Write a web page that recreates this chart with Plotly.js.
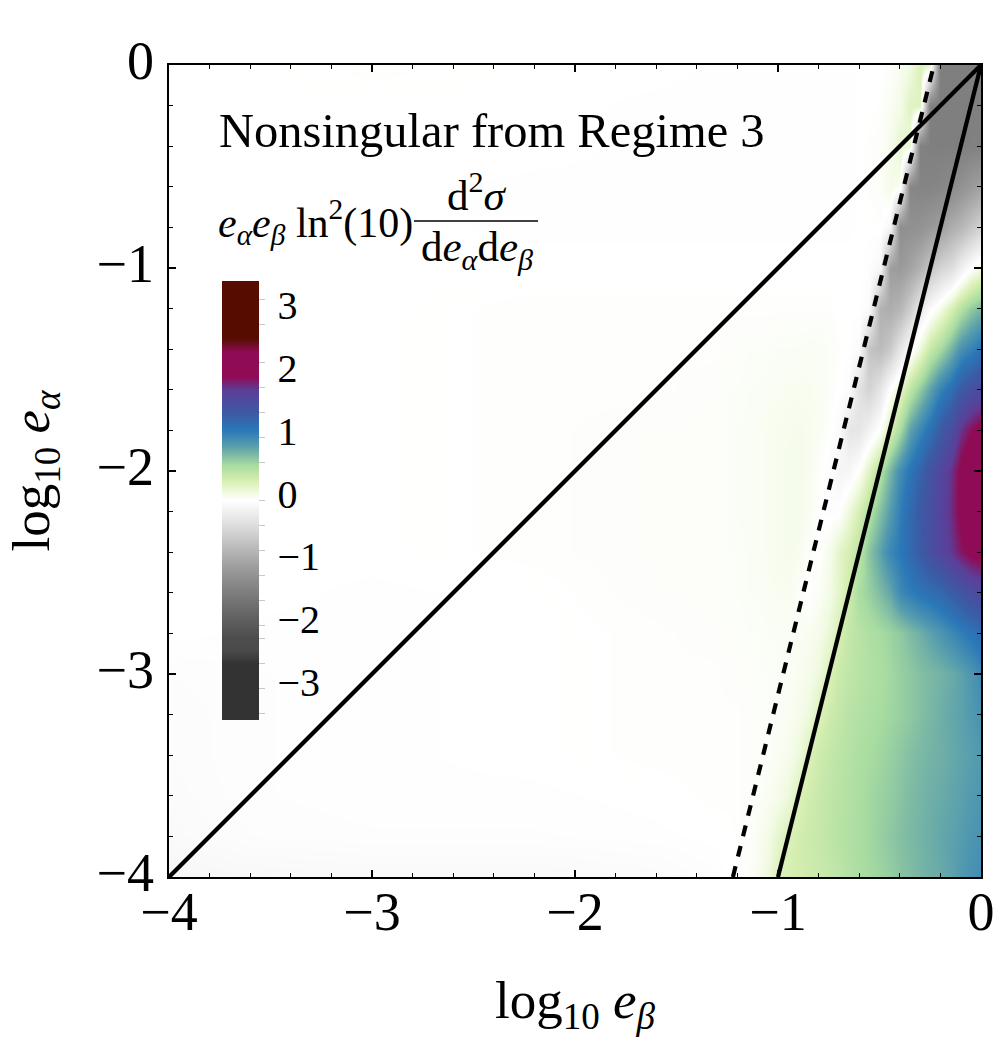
<!DOCTYPE html>
<html><head><meta charset="utf-8">
<script src="https://cdn.plot.ly/plotly-3.0.1.min.js"></script>
<style>html,body{margin:0;padding:0;background:#fff}#g{width:1000px;height:1045px}</style>
</head><body><div id="g"></div>
<script>
const logEBeta = [-4,-3.6,-3,-2.2,-1.6,-1.3,-1.25,-1.2,-1.15,-1.1,-1.05,-1,-.95,-.9,-.85,-.8,-.75,-.7,-.65,-.6,-.55,-.5,-.45,-.4,-.35,-.3,-.25,-.2,-.15,-.1,-.05,0];
const logEAlpha = [-4,-3.8,-3.6,-3.4,-3.2,-3,-2.8,-2.6,-2.4,-2.2,-2,-1.8,-1.6,-1.4,-1.2,-1,-.8,-.6,-.4,-.2,0];
const crossSection = [
[-.1,-.08,-.07,-.07,-.05,-.02,0,.01,.03,.07,.15,.28,.31,.33,.36,.38,.41,.44,.5,.54,.57,.6,.63,.68,.71,.75,.78,.8,.85,.9,.95,.98],
[-.06,-.03,-.02,-.02,-.01,0,0,.01,.02,.05,.1,.2,.28,.33,.37,.4,.44,.48,.51,.55,.58,.62,.66,.7,.73,.76,.79,.82,.85,.88,.92,.95],
[-.05,-.02,-.01,-.01,0,.01,.01,.01,.02,.03,.05,.09,.15,.27,.34,.39,.43,.47,.5,.54,.58,.61,.64,.68,.72,.75,.78,.8,.83,.86,.89,.92],
[-.04,-.02,-.01,0,.01,.01,.01,.01,.02,.02,.03,.05,.08,.14,.27,.36,.41,.45,.49,.53,.56,.59,.62,.66,.7,.73,.76,.78,.81,.84,.87,.9],
[-.04,-.02,-.01,0,.01,.01,.01,.01,.02,.02,.03,.04,.05,.08,.14,.27,.36,.42,.47,.5,.53,.56,.59,.62,.66,.7,.74,.78,.82,.85,.9,.95],
[-.03,-.02,-.01,0,.01,.01,.02,.02,.02,.03,.03,.04,.04,.06,.08,.15,.28,.38,.43,.47,.5,.54,.58,.62,.66,.7,.73,.76,.8,.85,.92,1],
[0,-.01,-.01,0,.01,.02,.02,.02,.03,.03,.04,.04,.05,.05,.06,.09,.17,.3,.42,.47,.52,.56,.6,.65,.72,.78,.85,.92,1,1.08,1.15,1.22],
[0,0,-.01,0,.02,.02,.03,.03,.04,.04,.05,.06,.06,.03,0,.04,.1,.22,.36,.55,.62,.72,.82,1,1.08,1.15,1.2,1.25,1.35,1.45,1.55,1.62],
[0,0,0,.01,.02,.02,.03,.03,.04,.05,.06,.07,.08,.07,.02,0,.08,.22,.32,.45,.68,.85,1.02,1.12,1.25,1.38,1.52,1.65,1.78,1.92,2.02,2.05],
[0,0,0,.01,.02,.02,.03,.04,.05,.05,.06,.07,.08,.08,.06,.01,-.03,0,.15,.32,.5,.7,.88,1.08,1.25,1.4,1.52,1.68,1.82,2.03,2.12,2.15],
[0,0,0,.01,.02,.02,.03,.04,.05,.05,.06,.07,.08,.08,.07,.02,-.03,-.12,-.1,.02,.25,.5,.75,.98,1.15,1.3,1.48,1.63,1.8,2.03,2.15,2.2],
[0,0,0,.01,.02,.02,.03,.04,.04,.05,.06,.07,.07,.08,.07,.05,.01,-.05,-.3,-.3,-.15,.02,.3,.55,.85,1.02,1.18,1.38,1.55,1.8,1.95,2.05],
[0,0,0,.01,.01,.02,.03,.03,.04,.04,.05,.05,.06,.06,.06,.05,.03,0,-.03,-.35,-.5,-.3,0,.2,.45,.65,.85,1.05,1.2,1.4,1.52,1.6],
[0,0,0,.01,.01,.01,.02,.02,.03,.03,.03,.04,.04,.04,.05,.05,.03,.01,-.01,-.05,-.65,-.75,-.6,-.3,-.05,.15,.4,.55,.75,.95,1.05,1.15],
[0,0,0,.01,.01,.01,.01,.01,.01,.01,.01,.01,.01,.01,.01,.01,.01,0,0,0,-.05,-.85,-.9,-.8,-.55,-.25,-.05,.1,.3,.5,.65,.75],
[0,0,0,0,0,0,0,0,0,0,0,0,0,0,0,0,0,0,0,0,-.02,-.1,-1.05,-1.1,-1,-.85,-.65,-.5,-.4,-.18,0,.12],
[0,0,0,-.01,-.01,-.01,-.01,-.01,-.01,-.01,-.01,-.01,-.01,-.01,-.01,-.01,-.01,-.01,-.01,0,0,.01,-.1,-1.25,-1.22,-1.2,-1.12,-1.05,-.9,-.8,-.65,-.5],
[0,0,0,-.01,-.01,-.01,-.01,-.01,-.01,-.01,-.01,-.01,-.01,-.01,-.01,-.01,-.01,-.01,-.01,0,.01,.03,.1,.05,-1.35,-1.38,-1.38,-1.35,-1.3,-1.2,-1.1,-1],
[0,0,0,0,-.01,-.01,-.01,-.01,-.01,-.01,-.01,-.01,-.01,-.01,-.01,-.01,-.01,-.01,-.01,0,.01,.02,.08,.2,.15,-1.42,-1.45,-1.45,-1.45,-1.45,-1.43,-1.42],
[0,0,0,0,-.01,-.01,-.01,-.01,-.01,-.01,-.01,-.01,-.01,-.01,-.01,-.01,-.01,-.01,-.01,0,0,.01,.05,.1,.25,.25,-1.45,-1.45,-1.45,-1.45,-1.45,-1.45],
[0,0,.01,0,0,-.01,-.01,-.01,-.01,-.01,-.01,-.01,-.01,-.01,-.01,-.01,-.01,-.01,-.01,0,0,0,.02,.06,.12,.28,.2,-1.45,-1.45,-1.45,-1.45,-1.45]
];
const scaleValues = [-3.5,-2.6,-2.4,-2.18,-1.8,-1.44,-1.1,-.75,-.37,0,.13,.32,.56,.75,.88,1.12,1.38,1.75,1.97,2.37,2.58,3.5];
const scaleColors = ['#333333','#333333','#4a4a4a','#4d4d4d','#666666','#808080','#9a9a9a','#bbbbbb','#e0e0e0','#ffffff','#f0fae0','#d5eeb0','#a8dca0','#77b5a5','#559cae','#2a78b8','#3b5ba5','#5b3f99','#8f0b55','#8f0b55','#560d00','#560d00'];
const colorbarLabelValues = [3.11,2.11,1.11,.11,-.89,-1.89,-2.89];
const colorbarLabelText = ['3','2','1','0','−1','−2','−3'];
const colorbarTickValues = [3.2,2.8,2.2,1.8,1.4,1,.6,0,-.4,-.8,-1.2,-1.6,-2,-2.2,-2.6,-3,-3.4];
const axisTickValues = [-4,-3,-2,-1,0];
const axisTickText = ['−4','−3','−2','−1','0'];
const diagonalX = [-4,0], diagonalY = [-4,0];
const solidX = [-1,0], solidY = [-4,0];
const dashedX = [-1.222,-.232], dashedY = [-4,0];

const FONT = '"Liberation Serif", serif';
const colorscale = scaleValues.map((v,i)=>[(v+3.5)/7, scaleColors[i]]);
const bar = {x:(222-169)/812, xanchor:'left', xpad:0, y:(877-500.5)/812, yanchor:'middle', ypad:0,
  thicknessmode:'pixels', thickness:37, lenmode:'pixels', len:439, outlinewidth:0, borderwidth:0};
const traces = [
 {type:'heatmap', x:logEBeta, y:logEAlpha, z:crossSection, zsmooth:'best', zmin:-3.5, zmax:3.5, colorscale,
  hoverinfo:'skip',
  colorbar:Object.assign({}, bar, {tickmode:'array', tickvals:colorbarLabelValues, ticktext:colorbarLabelText,
    ticks:'outside', ticklen:11, tickcolor:'rgba(0,0,0,0)', tickfont:{family:FONT,size:40,color:'#000'}})},
 {type:'heatmap', x:[-9], y:[-9], z:[[0]], zmin:-3.5, zmax:3.5, colorscale, hoverinfo:'skip',
  colorbar:Object.assign({}, bar, {tickmode:'array', tickvals:colorbarTickValues, showticklabels:false,
    ticks:'outside', ticklen:6, tickwidth:1, tickcolor:'#c8c8c8'})},
 {type:'scatter', mode:'lines', x:diagonalX, y:diagonalY, line:{color:'#000',width:4.2}, hoverinfo:'skip', showlegend:false},
 {type:'scatter', mode:'lines', x:solidX, y:solidY, line:{color:'#000',width:4.2}, hoverinfo:'skip', showlegend:false},
 {type:'scatter', mode:'lines', x:dashedX, y:dashedY, line:{color:'#000',width:4.2,dash:'11px,10px'}, hoverinfo:'skip', showlegend:false}
];
const axis = (title)=>({
  range:[-4,0], tickmode:'array', tickvals:axisTickValues, ticktext:axisTickText,
  ticks:'inside', ticklen:7, tickwidth:2, tickcolor:'#000',
  minor:{dtick:.2, tick0:-4, ticks:'inside', ticklen:4, tickwidth:1.3, tickcolor:'#000', showgrid:false},
  showline:true, linewidth:2.2, linecolor:'#000', mirror:'ticks', showgrid:false, zeroline:false,
  tickfont:{family:FONT,size:54,color:'#000'}, title:{text:title, font:{family:FONT,size:53,color:'#000'}}
});
const xaxis = axis('log<sub>10</sub> <i>e</i><sub><i>β</i></sub>');
xaxis.ticklabelstandoff = -14;
xaxis.title.standoff = 40;
const yaxis = axis('log<sub>10</sub> <i>e</i><sub><i>α</i></sub>');
yaxis.ticklabelstandoff = 2;
yaxis.ticklabelshift = -5;
yaxis.title.standoff = 30;
const note = (text,x,y,size,anchor)=>({xref:'paper',yref:'paper',x:(x-169)/812,y:(877-y)/812,text,showarrow:false,
  xanchor:anchor||'left',yanchor:'middle',font:{family:FONT,size,color:'#000'}});
const layout = {
 width:1000,height:1045,autosize:false,margin:{l:169,r:19,t:65,b:168,pad:0},
 paper_bgcolor:'#fff',plot_bgcolor:'#fff',showlegend:false,xaxis,yaxis,
 annotations:[
  note('Nonsingular from Regime 3',217,130,48.5),
  note('<i>e</i><sub><i>α</i></sub><i>e</i><sub><i>β</i></sub> ln<sup>2</sup>(10)',216,222,42),
  note('d<sup>2</sup><i>σ</i>',477,192,43,'center'),
  note('d<i>e</i><sub><i>α</i></sub>d<i>e</i><sub><i>β</i></sub>',477,250,43,'center')
 ],
 shapes:[{type:'line',xref:'paper',yref:'paper',x0:(414-169)/812,x1:(538-169)/812,y0:(877-221)/812,y1:(877-221)/812,line:{color:'#000',width:1.3}}]
};
Plotly.newPlot('g',traces,layout,{displayModeBar:false,staticPlot:true});
</script></body></html>
